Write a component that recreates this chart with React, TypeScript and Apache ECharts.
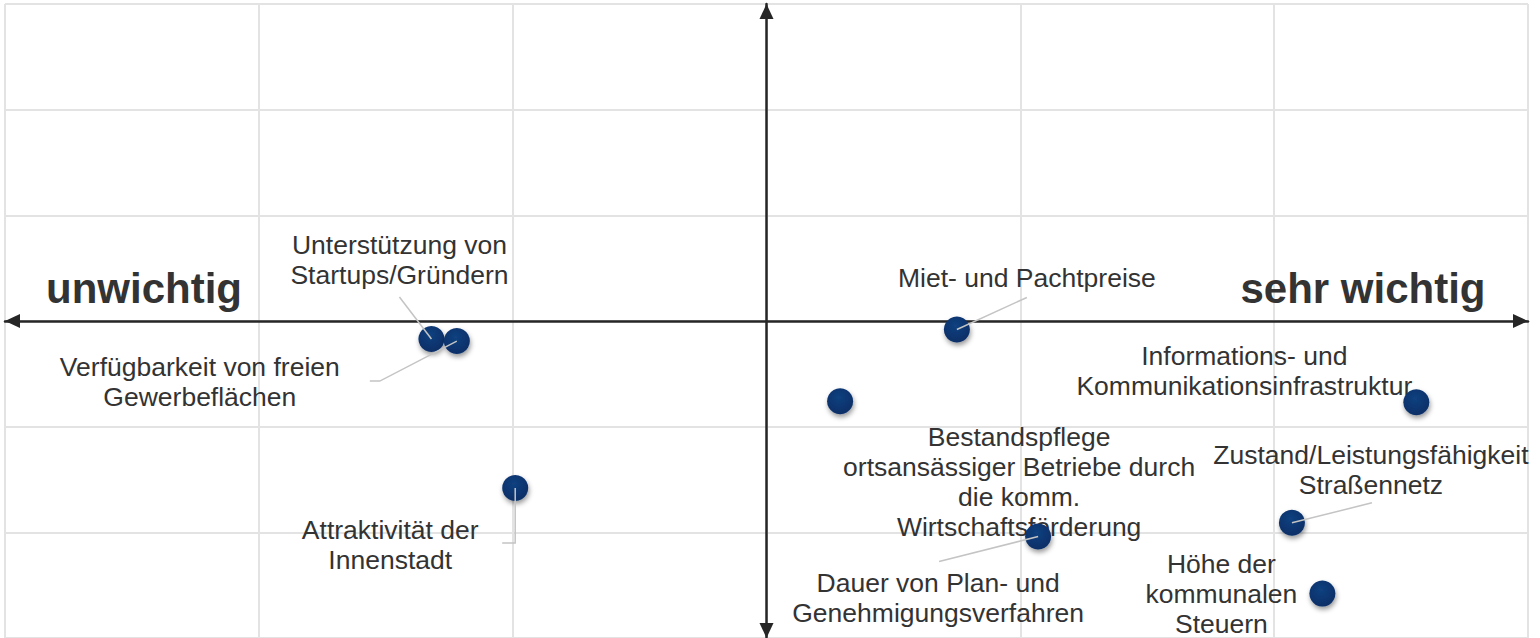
import { useEffect, useRef } from "react";
import * as echarts from "echarts";

// Factors (categories) shown in the portfolio
const factors = [
  "Unterstützung von\nStartups/Gründern",
  "Verfügbarkeit von freien\nGewerbeflächen",
  "Attraktivität der\nInnenstadt",
  "Miet- und Pachtpreise",
  "Bestandspflege\nortsansässiger Betriebe durch\ndie komm.\nWirtschaftsförderung",
  "Informations- und\nKommunikationsinfrastruktur",
  "Dauer von Plan- und\nGenehmigungsverfahren",
  "Zustand/Leistungsfähigkeit\nStraßennetz",
  "Höhe der\nkommunalen\nSteuern",
];

// Horizontal position (importance) and vertical position of each factor
const xValues = [-1.32, -1.22, -0.99, 0.75, 0.29, 2.56, 1.07, 2.07, 2.19];
const yValues = [-0.17, -0.19, -1.58, -0.08, -0.76, -0.77, -2.04, -1.91, -2.58];

// Axis range
const axisMin = -3;
const axisMax = 3;
const axisStep = 1;

// Pole labels
const poleLabels = ["unwichtig", "sehr wichtig"];

// Styling: label offsets (px, relative to point) and leader-line shapes
const labelOffsets: number[][] = [
  [-32, -79],
  [-257, 41],
  [-125, 57],
  [70, -51],
  [179, 81],
  [-172, -31],
  [-100, 61],
  [79, -53],
  [-101, 0],
];
const leaderPaths: (number[][] | null)[] = [
  [[0, 0], [-32, -42]],
  [[0, 0], [-77, 40], [-87, 40]],
  [[0, 0], [0, 55], [-13, 55]],
  [[0, 0], [70, -32]],
  null,
  null,
  [[0, 0], [-99, 25]],
  [[0, 0], [80, -20]],
  null,
];

const FONT = '"Liberation Sans", Arial, Helvetica, sans-serif';

export default function App() {
  const ref = useRef<HTMLDivElement>(null);

  useEffect(() => {
    if (!ref.current) return;
    const chart = echarts.init(ref.current, null, { renderer: "svg" });
    const points = xValues.map((x, i) => [x, yValues[i]]);

    const axisCommon = {
      type: "value" as const,
      min: axisMin,
      max: axisMax,
      interval: axisStep,
      axisLabel: { show: false },
      axisTick: { show: false },
      splitLine: { show: true, lineStyle: { color: "#e3e3e3", width: 2 } },
      axisLine: {
        show: true,
        onZero: true,
        symbol: ["triangle", "triangle"],
        symbolSize: [14, 15],
        symbolOffset: [7.5, -7.5],
        lineStyle: { color: "#262626", width: 2.5 },
      },
    };

    chart.setOption({
      animation: false,
      backgroundColor: "#ffffff",
      grid: { left: 5, right: 12, top: 4, height: 635 },
      xAxis: { ...axisCommon },
      yAxis: { ...axisCommon },
      graphic: [
        {
          type: "text",
          x: 144,
          y: 288,
          z: 1,
          style: {
            text: poleLabels[0],
            align: "center",
            verticalAlign: "middle",
            font: `bold 42px ${FONT}`,
            fill: "#333333",
          },
        },
        {
          type: "text",
          x: 1363,
          y: 288,
          z: 1,
          style: {
            text: poleLabels[1],
            align: "center",
            verticalAlign: "middle",
            font: `bold 42px ${FONT}`,
            fill: "#333333",
          },
        },
      ],
      series: [
        {
          name: "labels",
          type: "scatter",
          z: 1,
          silent: true,
          symbol: "circle",
          symbolSize: 1,
          itemStyle: { color: "rgba(255,255,255,0)", opacity: 1 },
          data: points.map((p, i) => ({
            value: p,
            name: factors[i],
            label: {
              show: true,
              position: "inside",
              offset: labelOffsets[i],
              formatter: factors[i],
              align: "center",
              verticalAlign: "middle",
              fontFamily: FONT,
              fontSize: 26.5,
              lineHeight: 30,
              color: "#333333",
              textBorderWidth: 0,
              textBorderColor: "transparent",
            },
          })),
        },
        {
          name: "factors",
          type: "scatter",
          z: 3,
          symbol: "circle",
          symbolSize: 26,
          itemStyle: {
            opacity: 1,
            color: new echarts.graphic.RadialGradient(0.45, 0.35, 0.75, [
              { offset: 0, color: "#12417f" },
              { offset: 1, color: "#062b63" },
            ]),
            shadowBlur: 5,
            shadowOffsetX: 1,
            shadowOffsetY: 3,
            shadowColor: "rgba(0,0,0,0.4)",
          },
          data: points,
        },
        {
          name: "leaders",
          type: "custom",
          z: 5,
          silent: true,
          data: points,
          renderItem: (params: any, api: any) => {
            const path = leaderPaths[params.dataIndex];
            if (!path) return null;
            const c = api.coord([api.value(0), api.value(1)]);
            return {
              type: "polyline",
              shape: { points: path.map(([dx, dy]) => [c[0] + dx, c[1] + dy]) },
              style: { stroke: "#c4c4c4", lineWidth: 1.5, fill: "none" },
            };
          },
        },
      ],
    });

    return () => chart.dispose();
  }, []);

  return (
    <div
      ref={ref}
      style={{ position: "fixed", left: 0, top: 0, width: 1540, height: 638 }}
    />
  );
}
